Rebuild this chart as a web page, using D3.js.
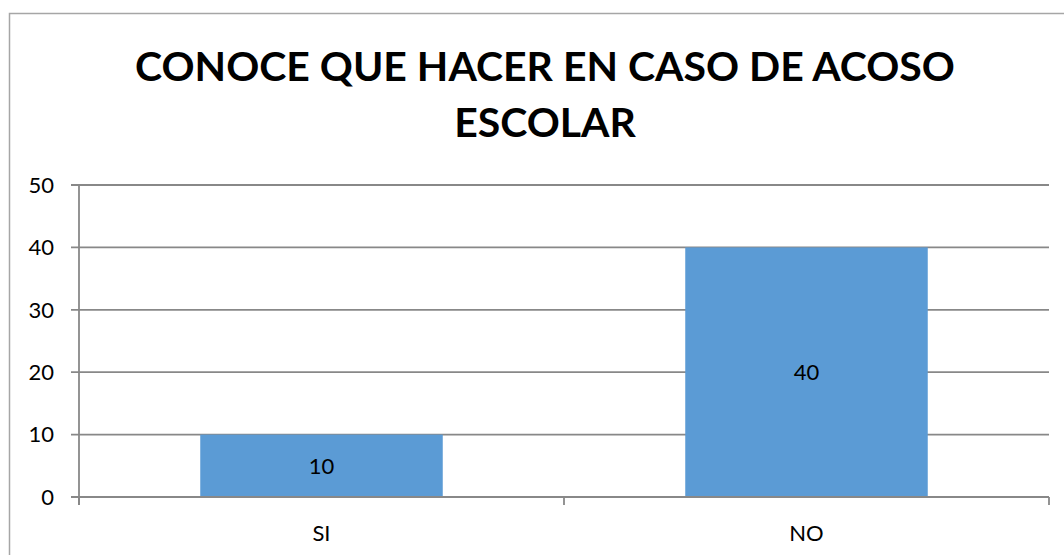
<!DOCTYPE html>
<html>
<head>
<meta charset="utf-8">
<script src="https://cdn.jsdelivr.net/npm/d3@7"></script>
<style>
  body{margin:0;background:#fff;}
  svg{display:block;font-family:Lato,"Open Sans",Arial,sans-serif;}
</style>
</head>
<body>
<svg width="1064" height="555"></svg>
<script>
const categories=['SI','NO'];
const values=[10,40];
const yTicks=[0,10,20,30,40,50];
const titleLines=['CONOCE QUE HACER EN CASO DE ACOSO','ESCOLAR'];

const svg=d3.select('svg');
const width=+svg.attr('width');
const margin={top:185,right:15,bottom:58,left:79};
const plotBottom=497;
const plotRight=1049;
const gridColor='#888888';

// outer frame (runs off the right and bottom edges like the original)
svg.append('rect')
  .attr('x',9.5).attr('y',13.5)
  .attr('width',width).attr('height',600)
  .attr('fill','none')
  .attr('stroke','#a6a6a6')
  .attr('stroke-width',1.5);

/* title */
svg.selectAll('.title')
  .data(titleLines)
  .enter().append('text')
  .attr('class','title')
  .attr('x',545)
  .attr('y',(d,i)=>81+i*56)
  .attr('text-anchor','middle')
  .attr('font-weight','bold')
  .attr('font-size',42)
  .attr('fill','#000')
  .text(d=>d);
// fit first line to the width seen in the picture
const t0=svg.select('.title').node();
const w0=t0.getComputedTextLength();
const fs=42*820/w0;
svg.selectAll('.title').attr('font-size',fs);

/* scales */
let yScale=d3.scaleLinear()
  .domain([0,50])
  .range([plotBottom,margin.top]);
let xScale=d3.scaleBand()
  .domain(categories)
  .range([margin.left,plotRight])
  .paddingInner(0.5)
  .paddingOuter(0.25);

// gridlines
svg.selectAll('.grid')
  .data(yTicks)
  .enter().append('line')
  .attr('class','grid')
  .attr('x1',margin.left-8)
  .attr('x2',plotRight)
  .attr('y1',d=>yScale(d))
  .attr('y2',d=>yScale(d))
  .attr('stroke',gridColor)
  .attr('stroke-width',1.8);

// bars
svg.selectAll('.bar')
  .data(values)
  .enter().append('rect')
  .attr('class','bar')
  .attr('x',(d,i)=>xScale(categories[i]))
  .attr('y',d=>yScale(d))
  .attr('width',xScale.bandwidth())
  .attr('height',d=>yScale(0)-yScale(d))
  .attr('fill','#5b9bd5');

// axis lines redrawn on top
svg.append('line')
  .attr('x1',margin.left).attr('x2',margin.left)
  .attr('y1',margin.top).attr('y2',plotBottom+8)
  .attr('stroke',gridColor).attr('stroke-width',1.8);
svg.append('line')
  .attr('x1',margin.left-8).attr('x2',plotRight)
  .attr('y1',plotBottom).attr('y2',plotBottom)
  .attr('stroke',gridColor).attr('stroke-width',1.8);
// category boundary ticks
const step=xScale.step();
svg.selectAll('.xtick')
  .data(d3.range(categories.length+1))
  .enter().append('line')
  .attr('class','xtick')
  .attr('x1',i=>margin.left+i*step)
  .attr('x2',i=>margin.left+i*step)
  .attr('y1',plotBottom).attr('y2',plotBottom+8)
  .attr('stroke',gridColor).attr('stroke-width',1.8);

// y labels
svg.selectAll('.ylab')
  .data(yTicks)
  .enter().append('text')
  .attr('class','ylab')
  .attr('x',54)
  .attr('y',d=>yScale(d))
  .attr('dy','0.35em')
  .attr('text-anchor','end')
  .attr('font-size',22)
  .attr('fill','#000')
  .text(d=>d);

// x labels
svg.selectAll('.xlab')
  .data(categories)
  .enter().append('text')
  .attr('class','xlab')
  .attr('x',d=>xScale(d)+xScale.bandwidth()/2)
  .attr('y',541)
  .attr('text-anchor','middle')
  .attr('font-size',22)
  .attr('fill','#000')
  .text(d=>d);

// value labels
svg.selectAll('.vlab')
  .data(values)
  .enter().append('text')
  .attr('class','vlab')
  .attr('x',(d,i)=>xScale(categories[i])+xScale.bandwidth()/2)
  .attr('y',d=>(yScale(d)+yScale(0))/2)
  .attr('dy','0.35em')
  .attr('text-anchor','middle')
  .attr('font-size',22)
  .attr('fill','#000')
  .text(d=>d);
</script>
</body>
</html>
